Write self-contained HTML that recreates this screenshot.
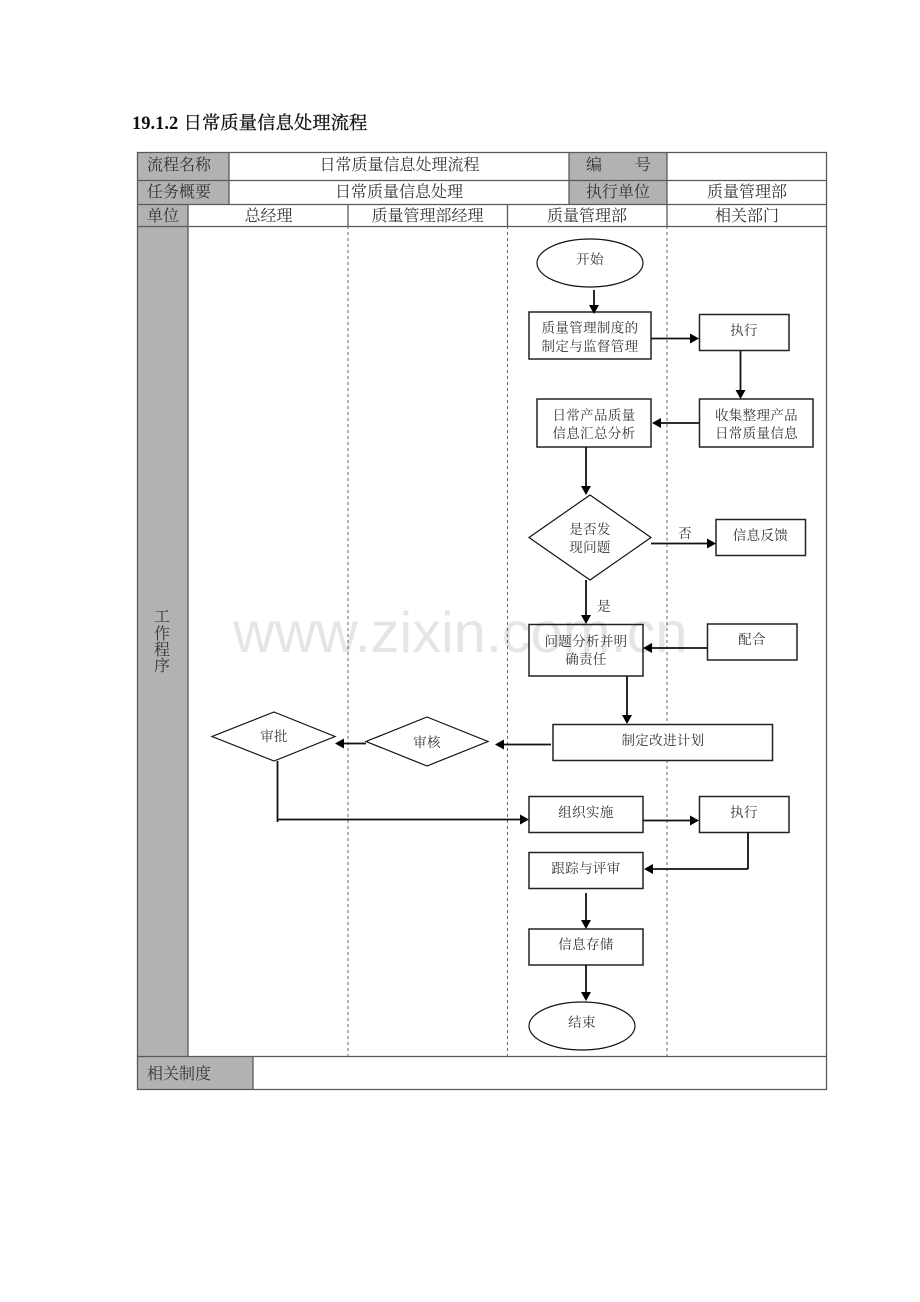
<!DOCTYPE html>
<html><head><meta charset="utf-8"><style>
html,body{margin:0;padding:0;background:#fff;width:920px;height:1302px;overflow:hidden}
svg{display:block}
text{font-family:"Liberation Serif","Noto Serif CJK SC",serif;fill:#222}
.h{font-size:16px;text-anchor:middle;fill:#333}
.l{font-size:16px;fill:#333}
.n{font-size:13.500px;letter-spacing:.35px;text-anchor:middle;fill:#333}
.t{stroke:#5a5a5a;stroke-width:1.300;fill:none}
.g{fill:#b2b2b2}
.d{stroke:#666;stroke-width:1;stroke-dasharray:3 3;fill:none}
.b{fill:#fff;stroke:#222;stroke-width:1.500}
.e{fill:#fff;stroke:#111;stroke-width:1.200}
.c{stroke:#111;stroke-width:1.800;fill:none}
.a{fill:#000}
</style></head><body>
<svg width="920" height="1302" viewBox="0 0 920 1302" xmlns="http://www.w3.org/2000/svg">
<text x="132" y="129" style="font-size:18.500px;font-weight:bold;fill:#111">19.1.2<tspan x="183.500" style="font-weight:normal;font-size:18.400px;stroke:#111;stroke-width:.3px">日常质量信息处理流程</tspan></text>

<rect class="g" x="137" y="152" width="92" height="52"/>
<rect class="g" x="569" y="152" width="98" height="52"/>
<rect class="g" x="137" y="204" width="51" height="852"/>
<rect class="g" x="137" y="1056" width="116" height="33"/>

<path class="t" d="M137.500 152.500H826.500V1089.500H137.500Z"/>
<path class="t" d="M137 180.500H827M137 204.500H827M137 226.500H827M137 1056.500H827"/>
<path class="t" d="M229 152V204M569 152V204M667 152V226M188 204V1056M348 204V226M507.500 204V226M253 1056V1089"/>
<path class="d" d="M348 226V1056M507.500 226V1056M667 226V1056"/>

<text class="l" x="147" y="170">流程名称</text>
<text class="h" x="399.500" y="170">日常质量信息处理流程</text>
<text class="l" x="586" y="170">编</text>
<text class="l" x="635" y="170">号</text>
<text class="l" x="147" y="197">任务概要</text>
<text class="h" x="399" y="197">日常质量信息处理</text>
<text class="h" x="618" y="197">执行单位</text>
<text class="h" x="747" y="197">质量管理部</text>
<text class="l" x="147" y="221">单位</text>
<text class="h" x="268.500" y="221">总经理</text>
<text class="h" x="427.500" y="221">质量管理部经理</text>
<text class="h" x="587" y="221">质量管理部</text>
<text class="h" x="747" y="221">相关部门</text>
<text class="h" x="162" y="622">工</text>
<text class="h" x="162" y="639">作</text>
<text class="h" x="162" y="655">程</text>
<text class="h" x="162" y="671">序</text>
<text class="l" x="147" y="1079">相关制度</text>

<!-- shapes -->
<ellipse class="e" cx="590" cy="263" rx="53" ry="24"/>
<rect class="b" x="529" y="312" width="122" height="47"/>
<rect class="b" x="699.500" y="314.500" width="89.500" height="36"/>
<rect class="b" x="537" y="399" width="114" height="48"/>
<rect class="b" x="699.500" y="399" width="113.500" height="48"/>
<polygon class="e" points="590,495 651,537.500 590,580 529,537.500"/>
<rect class="b" x="716" y="519.500" width="89.500" height="36"/>
<rect class="b" x="529" y="624.500" width="114" height="51.500"/>
<rect class="b" x="707.500" y="624" width="89.500" height="36"/>
<rect class="b" x="553" y="724.500" width="219.500" height="36"/>
<polygon class="e" points="427,717 488,741.500 427,766 366,741.500"/>
<polygon class="e" points="274,712 335,736.500 274,761 212,736.500"/>
<rect class="b" x="529" y="796.500" width="114" height="36"/>
<rect class="b" x="699.500" y="796.500" width="89.500" height="36"/>
<rect class="b" x="529" y="852.500" width="114" height="36"/>
<rect class="b" x="529" y="929" width="114" height="36"/>
<ellipse class="e" cx="582" cy="1026" rx="53" ry="24"/>

<!-- watermark -->
<text x="233" y="652" style="font-family:'Liberation Sans',sans-serif;font-size:57.600px;fill:#000;fill-opacity:.1">www.zixin.com.cn</text>

<!-- connectors -->
<path class="c" d="M594 290V308M651 338.500H692M740.500 351V392M699 423H658M586 447V488M651 543.500H709M586 580V617M707 648H650M627 676V717M551 744.500H502M366 743.500H342M277.500 761V822M277 819.500H522M643 820.500H692M748 832V869M748 869H651M586 893V922M586 965V995"/>
<path class="a" d="M594 314l-5-9h10zM699 338.500l-9-5v10zM740.500 399l-5-9h10zM652 423l9-5v10zM586 495l-5-9h10zM716 543.500l-9-5v10zM586 624l-5-9h10zM643 648l9-5v10zM627 724l-5-9h10zM495 744.500l9-5v10zM335 743.500l9-5v10zM529 819.500l-9-5v10zM699 820.500l-9-5v10zM644 869l9-5v10zM586 929l-5-9h10zM586 1001l-5-9h10z"/>

<!-- node text -->
<text class="n" x="590" y="264">开始</text>
<text class="n" x="590" y="332.500">质量管理制度的</text>
<text class="n" x="590" y="351">制定与监督管理</text>
<text class="n" x="744" y="335">执行</text>
<text class="n" x="594" y="420">日常产品质量</text>
<text class="n" x="594" y="438">信息汇总分析</text>
<text class="n" x="756.500" y="420">收集整理产品</text>
<text class="n" x="756.500" y="438">日常质量信息</text>
<text class="n" x="590" y="534">是否发</text>
<text class="n" x="590" y="552">现问题</text>
<text class="n" x="685" y="538">否</text>
<text class="n" x="760.500" y="540">信息反馈</text>
<text class="n" x="604" y="611">是</text>
<text class="n" x="586" y="646">问题分析并明</text>
<text class="n" x="586" y="664">确责任</text>
<text class="n" x="752" y="644">配合</text>
<text class="n" x="663" y="745">制定改进计划</text>
<text class="n" x="427" y="747">审核</text>
<text class="n" x="274" y="741">审批</text>
<text class="n" x="586" y="817">组织实施</text>
<text class="n" x="744" y="817">执行</text>
<text class="n" x="586" y="873">跟踪与评审</text>
<text class="n" x="586" y="949">信息存储</text>
<text class="n" x="582" y="1027">结束</text>
</svg>
</body></html>
